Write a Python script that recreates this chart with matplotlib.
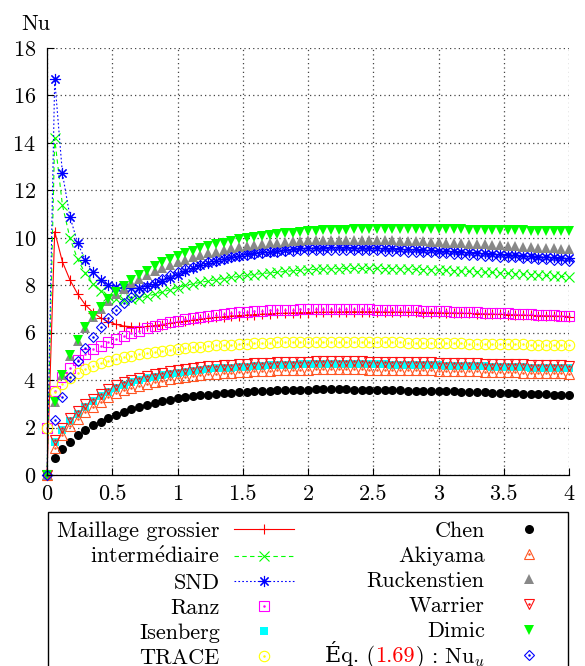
import numpy as np
import matplotlib.pyplot as plt
from matplotlib.offsetbox import HPacker, TextArea
from matplotlib.transforms import Bbox
from matplotlib.ticker import FormatStrFormatter
from matplotlib.legend_handler import HandlerTuple

plt.rcParams['font.family'] = ['cmr10', 'DejaVu Serif']
plt.rcParams['mathtext.fontset'] = 'cm'
plt.rcParams['font.size'] = 16
plt.rcParams['axes.formatter.use_mathtext'] = True

# temps (s)
t = [0.000, 0.059, 0.118, 0.176, 0.235, 0.294, 0.353, 0.412, 0.471, 0.529,
     0.588, 0.647, 0.706, 0.765, 0.824, 0.882, 0.941, 1.000, 1.059, 1.118,
     1.176, 1.235, 1.294, 1.353, 1.412, 1.471, 1.529, 1.588, 1.647, 1.706,
     1.765, 1.824, 1.882, 1.941, 2.000, 2.059, 2.118, 2.176, 2.235, 2.294,
     2.353, 2.412, 2.471, 2.529, 2.588, 2.647, 2.706, 2.765, 2.824, 2.882,
     2.941, 3.000, 3.059, 3.118, 3.176, 3.235, 3.294, 3.353, 3.412, 3.471,
     3.529, 3.588, 3.647, 3.706, 3.765, 3.824, 3.882, 3.941, 4.000]

# simulations
grossier = [0.00, 10.26, 8.99, 8.22, 7.63, 7.17, 6.85, 6.62, 6.46, 6.35,
            6.28, 6.25, 6.24, 6.26, 6.30, 6.34, 6.39, 6.44, 6.49, 6.53,
            6.57, 6.61, 6.64, 6.67, 6.70, 6.72, 6.74, 6.76, 6.78, 6.79,
            6.81, 6.82, 6.83, 6.84, 6.85, 6.86, 6.86, 6.87, 6.87, 6.88,
            6.88, 6.88, 6.88, 6.88, 6.87, 6.87, 6.87, 6.86, 6.86, 6.85,
            6.85, 6.84, 6.83, 6.83, 6.82, 6.81, 6.80, 6.79, 6.78, 6.77,
            6.76, 6.75, 6.74, 6.73, 6.72, 6.71, 6.70, 6.69, 6.68]
intermediaire = [0.00, 14.19, 11.38, 9.98, 9.09, 8.50, 8.05, 7.75, 7.55, 7.43,
                 7.38, 7.40, 7.45, 7.53, 7.62, 7.71, 7.81, 7.90, 7.99, 8.06,
                 8.12, 8.18, 8.23, 8.28, 8.33, 8.37, 8.41, 8.45, 8.49, 8.52,
                 8.55, 8.58, 8.61, 8.63, 8.65, 8.67, 8.68, 8.69, 8.70, 8.71,
                 8.71, 8.71, 8.71, 8.71, 8.70, 8.70, 8.69, 8.68, 8.67, 8.66,
                 8.65, 8.64, 8.63, 8.61, 8.60, 8.58, 8.57, 8.55, 8.54, 8.52,
                 8.50, 8.48, 8.47, 8.45, 8.43, 8.41, 8.39, 8.37, 8.35]
snd = [0.00, 16.68, 12.72, 10.89, 9.77, 9.06, 8.55, 8.22, 8.02, 7.92,
       7.87, 7.87, 7.90, 7.96, 8.06, 8.18, 8.31, 8.45, 8.59, 8.72,
       8.84, 8.94, 9.03, 9.11, 9.18, 9.24, 9.30, 9.35, 9.39, 9.42,
       9.45, 9.49, 9.52, 9.55, 9.57, 9.58, 9.59, 9.60, 9.60, 9.60,
       9.59, 9.59, 9.58, 9.57, 9.56, 9.55, 9.54, 9.52, 9.51, 9.49,
       9.48, 9.46, 9.44, 9.43, 9.41, 9.39, 9.37, 9.35, 9.33, 9.31,
       9.29, 9.27, 9.25, 9.23, 9.21, 9.19, 9.17, 9.15, 9.13]

# correlations
ranz = [2.00, 3.56, 4.12, 4.50, 4.85, 5.10, 5.30, 5.45, 5.60, 5.75,
        5.88, 5.99, 6.09, 6.18, 6.27, 6.36, 6.44, 6.51, 6.57, 6.63,
        6.68, 6.72, 6.76, 6.80, 6.83, 6.86, 6.88, 6.90, 6.92, 6.94,
        6.95, 6.96, 6.97, 6.98, 6.98, 6.99, 6.99, 6.99, 6.99, 6.99,
        6.99, 6.98, 6.98, 6.97, 6.97, 6.96, 6.95, 6.95, 6.94, 6.93,
        6.92, 6.91, 6.90, 6.89, 6.88, 6.87, 6.86, 6.85, 6.84, 6.83,
        6.81, 6.80, 6.79, 6.78, 6.76, 6.75, 6.74, 6.72, 6.71]
isenberg = [0.00, 1.40, 1.89, 2.28, 2.58, 2.86, 3.10, 3.31, 3.50, 3.66,
            3.79, 3.90, 3.99, 4.07, 4.14, 4.20, 4.26, 4.31, 4.35, 4.39,
            4.43, 4.46, 4.49, 4.51, 4.53, 4.55, 4.57, 4.59, 4.60, 4.62,
            4.63, 4.64, 4.65, 4.66, 4.66, 4.67, 4.67, 4.67, 4.67, 4.67,
            4.67, 4.67, 4.66, 4.66, 4.66, 4.65, 4.65, 4.64, 4.64, 4.63,
            4.63, 4.62, 4.61, 4.61, 4.60, 4.59, 4.59, 4.58, 4.57, 4.56,
            4.56, 4.55, 4.54, 4.53, 4.53, 4.52, 4.51, 4.50, 4.49]
trace = [2.00, 3.50, 3.85, 4.10, 4.30, 4.47, 4.60, 4.72, 4.82, 4.90,
         4.97, 5.03, 5.09, 5.14, 5.19, 5.23, 5.27, 5.31, 5.35, 5.38,
         5.41, 5.44, 5.46, 5.48, 5.50, 5.52, 5.54, 5.55, 5.57, 5.58,
         5.59, 5.60, 5.61, 5.61, 5.62, 5.62, 5.62, 5.62, 5.62, 5.62,
         5.61, 5.61, 5.61, 5.60, 5.60, 5.59, 5.59, 5.58, 5.58, 5.57,
         5.57, 5.56, 5.56, 5.55, 5.55, 5.54, 5.54, 5.53, 5.53, 5.52,
         5.52, 5.51, 5.51, 5.50, 5.50, 5.49, 5.49, 5.48, 5.48]
chen = [0.00, 0.70, 1.08, 1.40, 1.67, 1.90, 2.09, 2.25, 2.40, 2.53,
        2.66, 2.77, 2.87, 2.96, 3.04, 3.11, 3.17, 3.23, 3.28, 3.32,
        3.36, 3.39, 3.42, 3.45, 3.47, 3.49, 3.51, 3.53, 3.54, 3.56,
        3.57, 3.58, 3.59, 3.60, 3.60, 3.61, 3.61, 3.61, 3.61, 3.61,
        3.60, 3.60, 3.59, 3.59, 3.58, 3.58, 3.57, 3.56, 3.56, 3.55,
        3.54, 3.53, 3.53, 3.52, 3.51, 3.50, 3.49, 3.48, 3.47, 3.46,
        3.45, 3.44, 3.43, 3.42, 3.41, 3.40, 3.39, 3.38, 3.37]
akiyama = [0.00, 1.14, 1.67, 2.05, 2.36, 2.64, 2.88, 3.09, 3.28, 3.44,
           3.57, 3.68, 3.77, 3.85, 3.92, 3.98, 4.04, 4.09, 4.13, 4.17,
           4.21, 4.24, 4.27, 4.29, 4.31, 4.33, 4.35, 4.37, 4.38, 4.40,
           4.41, 4.42, 4.43, 4.44, 4.44, 4.45, 4.45, 4.45, 4.45, 4.45,
           4.45, 4.45, 4.44, 4.44, 4.44, 4.43, 4.43, 4.42, 4.42, 4.41,
           4.41, 4.40, 4.39, 4.39, 4.38, 4.37, 4.37, 4.36, 4.35, 4.34,
           4.34, 4.33, 4.32, 4.31, 4.31, 4.30, 4.29, 4.28, 4.27]
ruckenstien = [0.00, 3.07, 4.20, 5.03, 5.66, 6.21, 6.65, 7.01, 7.33, 7.61,
               7.86, 8.08, 8.28, 8.45, 8.60, 8.74, 8.86, 8.98, 9.08, 9.18,
               9.27, 9.35, 9.42, 9.49, 9.55, 9.61, 9.66, 9.70, 9.74, 9.77,
               9.80, 9.83, 9.85, 9.87, 9.89, 9.90, 9.91, 9.92, 9.92, 9.92,
               9.92, 9.92, 9.91, 9.91, 9.90, 9.89, 9.88, 9.87, 9.86, 9.85,
               9.83, 9.82, 9.80, 9.79, 9.77, 9.75, 9.74, 9.72, 9.70, 9.68,
               9.66, 9.65, 9.63, 9.61, 9.59, 9.57, 9.55, 9.53, 9.51]
warrier = [0.00, 1.49, 2.00, 2.39, 2.70, 2.98, 3.22, 3.43, 3.62, 3.78,
           3.91, 4.02, 4.11, 4.19, 4.26, 4.32, 4.38, 4.43, 4.47, 4.51,
           4.55, 4.58, 4.61, 4.63, 4.65, 4.67, 4.69, 4.71, 4.72, 4.74,
           4.75, 4.76, 4.77, 4.78, 4.78, 4.79, 4.79, 4.79, 4.79, 4.79,
           4.79, 4.79, 4.78, 4.78, 4.78, 4.77, 4.77, 4.76, 4.76, 4.75,
           4.75, 4.74, 4.73, 4.73, 4.72, 4.71, 4.71, 4.70, 4.69, 4.68,
           4.68, 4.67, 4.66, 4.65, 4.65, 4.64, 4.63, 4.62, 4.61]
dimic = [0.00, 3.09, 4.22, 5.06, 5.69, 6.25, 6.70, 7.07, 7.40, 7.70,
         7.96, 8.20, 8.42, 8.62, 8.80, 8.96, 9.10, 9.23, 9.35, 9.46,
         9.56, 9.65, 9.73, 9.80, 9.87, 9.93, 9.99, 10.04, 10.08, 10.12,
         10.16, 10.19, 10.22, 10.25, 10.27, 10.29, 10.31, 10.32, 10.33, 10.34,
         10.35, 10.36, 10.36, 10.36, 10.37, 10.37, 10.37, 10.37, 10.36, 10.36,
         10.36, 10.36, 10.35, 10.35, 10.35, 10.34, 10.34, 10.33, 10.33, 10.32,
         10.32, 10.31, 10.31, 10.30, 10.30, 10.29, 10.29, 10.28, 10.28]
nu_u = [0.00, 2.32, 3.30, 4.12, 4.80, 5.34, 5.83, 6.25, 6.62, 6.95,
        7.24, 7.50, 7.73, 7.93, 8.11, 8.27, 8.42, 8.55, 8.67, 8.78,
        8.87, 8.96, 9.04, 9.11, 9.17, 9.23, 9.28, 9.32, 9.36, 9.39,
        9.42, 9.44, 9.46, 9.47, 9.48, 9.49, 9.50, 9.50, 9.50, 9.50,
        9.49, 9.49, 9.48, 9.47, 9.46, 9.45, 9.44, 9.42, 9.41, 9.39,
        9.38, 9.36, 9.34, 9.33, 9.31, 9.29, 9.27, 9.25, 9.23, 9.21,
        9.19, 9.17, 9.15, 9.13, 9.11, 9.09, 9.07, 9.05, 9.03]

labels = ['Maillage grossier', r'interm$\acute{\mathrm{e}}$diaire', 'SND', 'Ranz', 'Isenberg', 'TRACE',
          'Chen', 'Akiyama', 'Ruckenstien', 'Warrier', 'Dimic', 'Éq. (1.69) : Nu$_u$']

fig = plt.figure(figsize=(5.85, 6.66), dpi=100)
ax = fig.add_axes([47/585, 1 - 475/666, 522/585, 427/666])


def courbe(y, col, mk, ms, ls='-'):
    l, = ax.plot(t, y, color=col, ls=ls, lw=0.8, marker=mk, ms=ms, mew=0.8, clip_on=False)
    return l


def plein(y, col, mk, ms):
    l, = ax.plot(t, y, ls='none', marker=mk, ms=ms, color=col, mew=0, clip_on=False)
    return l


def vide(y, col, mk, ms):
    a, = ax.plot(t, y, ls='none', marker=mk, ms=ms, mfc='none', mec=col, mew=0.8, clip_on=False)
    b, = ax.plot(t, y, ls='none', marker='.', ms=1.6, color=col, clip_on=False)
    return (a, b)


h = []
h.append(courbe(grossier, 'red', '+', 7))
h.append(courbe(intermediaire, '#00ff00', 'x', 7, ls=(0, (4, 3))))
h.append(courbe(snd, 'blue', (8, 2, 0), 8, ls=(0, (1.5, 2))))
h.append(vide(ranz, '#ff00ff', 's', 7))
h.append(plein(isenberg, '#00ffff', 's', 6))
h.append(vide(trace, '#ffff00', 'o', 7.5))
h.append(plein(chen, 'black', 'o', 6.5))
h.append(vide(akiyama, '#ff5522', '^', 7.5))
h.append(plein(ruckenstien, '#888888', '^', 7.5))
h.append(vide(warrier, '#ff1010', 'v', 7.5))
h.append(plein(dimic, '#00ff00', 'v', 7.5))
h.append(vide(nu_u, 'blue', 'D', 5.5))

ax.set_xlim(0, 4)
ax.set_ylim(0, 18)
ax.set_xticks([0, 0.5, 1, 1.5, 2, 2.5, 3, 3.5, 4])
ax.set_yticks([0, 2, 4, 6, 8, 10, 12, 14, 16, 18])
ax.xaxis.set_major_formatter(FormatStrFormatter('%g'))
ax.grid(True, ls=(0, (1, 2.5)), color='#444444', lw=0.9)
ax.spines['top'].set_visible(False)
ax.spines['right'].set_visible(False)
for s in ['left', 'bottom']:
    ax.spines[s].set_linewidth(0.9)
ax.tick_params(direction='in', length=5, width=0.8, top=False, right=False)
ax.tick_params(axis='x', pad=7)
ax.tick_params(axis='y', pad=8)

fig.text(21/585, 1 - 30/666, 'Nu', va='baseline', ha='left')

leg = ax.legend(h, labels, ncols=2, markerfirst=False, loc='upper left',
                bbox_to_anchor=(48/585, 1 - 512/666 - 0.3, 520/585, 0.3),
                bbox_transform=fig.transFigure, mode='expand', borderaxespad=0,
                fancybox=False, edgecolor='black', framealpha=1,
                handlelength=2.7, handletextpad=0.65, labelspacing=0.25,
                borderpad=0.42, columnspacing=1.0,
                handler_map={tuple: HandlerTuple(ndivide=1)})
leg.get_frame().set_linewidth(1.0)


class Boite(HPacker):
    # le E accentue (police de secours) rend la ligne trop haute
    def _get_bbox_and_child_offsets(self, renderer):
        bbox, offsets = super()._get_bbox_and_child_offsets(renderer)
        extra = renderer.points_to_pixels(4.3)
        return Bbox.from_bounds(bbox.x0, bbox.y0, bbox.width, bbox.height - extra), offsets


# "1.69" en rouge dans la legende, et plus d'ecart dans la 2e colonne
colonnes = leg._legend_handle_box.get_children()
for item in colonnes[1].get_children():
    item.sep = 10
    enfants = item.get_children()
    ta = enfants[0]
    if isinstance(ta, TextArea) and 'q. (' in ta.get_text():
        morceaux = [TextArea('Éq. (', textprops=dict(fontsize=16)),
                    TextArea('1.69', textprops=dict(fontsize=16, color='red')),
                    TextArea(') : Nu$_u$', textprops=dict(fontsize=16))]
        boite = Boite(children=morceaux, pad=0, sep=0, align='baseline')
        boite.set_figure(fig)
        enfants[0] = boite

fig.savefig('out.png', dpi=100)
